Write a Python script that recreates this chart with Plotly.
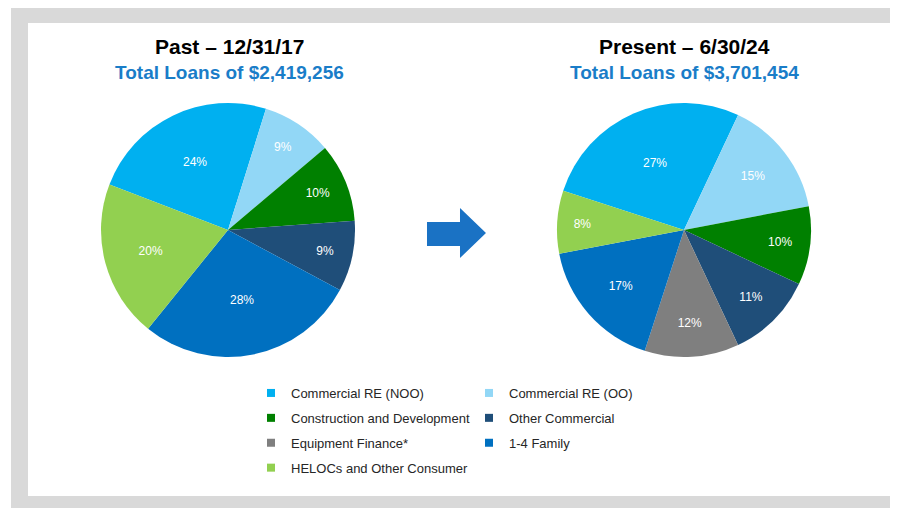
import plotly.graph_objects as go

# ---------------- data ----------------
categories = ["Commercial RE (NOO)", "Commercial RE (OO)", "Construction and Development",
              "Other Commercial", "Equipment Finance*", "1-4 Family", "HELOCs and Other Consumer"]
past_values = [24, 9, 10, 9, 0, 28, 20]
present_values = [27, 15, 10, 11, 12, 17, 8]
colors = ["#00b0f0", "#92d7f6", "#008000", "#1f4e79", "#7f7f7f", "#0070c0", "#92d050"]

past_title = "Past – 12/31/17"
past_subtitle = "Total Loans of $2,419,256"
present_title = "Present – 6/30/24"
present_subtitle = "Total Loans of $3,701,454"

W, H = 898, 508
OFF = 8  # page body margin
FONT = "Arial, Liberation Sans, sans-serif"
BLUE = "#1a7dc8"


def px(x):
    return (x - OFF) / W


def py(y):
    return 1 - (y - OFF) / H


def pie_domain(cx, cy, r):
    return dict(x=[px(cx - r), px(cx + r)], y=[py(cy + r), py(cy - r)])


def nonzero(values):
    idx = [i for i, v in enumerate(values) if v > 0]
    return ([categories[i] for i in idx], [values[i] for i in idx], [colors[i] for i in idx])


fig = go.Figure()

for values, cx, rot in [(past_values, 228, -69), (present_values, 684, -72)]:
    labs, vals, cols = nonzero(values)
    fig.add_trace(go.Pie(
        labels=labs, values=vals, sort=False, direction="clockwise", rotation=rot,
        marker=dict(colors=cols, line=dict(width=0)),
        texttemplate="%{value}%", textposition="inside", insidetextorientation="horizontal",
        textfont=dict(size=12, color="white", family=FONT),
        domain=pie_domain(cx, 230, 127), showlegend=False, hoverinfo="label+value",
    ))

# legend entries (two columns)
for i, (cat, col) in enumerate(zip(categories, colors)):
    fig.add_trace(go.Scatter(
        x=[None], y=[None], mode="markers", name=cat,
        marker=dict(symbol="square", size=8, color=col),
        legend="legend" if i % 2 == 0 else "legend2", legendgroup=cat,
    ))

shapes = [
    dict(type="rect", xref="paper", yref="paper", x0=px(11), x1=1.02, y0=-0.02, y1=py(6),
         fillcolor="#d9d9d9", line=dict(width=0), layer="below"),
    dict(type="rect", xref="paper", yref="paper", x0=px(28), x1=px(892), y0=py(496), y1=py(23),
         fillcolor="white", line=dict(width=0), layer="below"),
]
arrow_pts = [(427, 222), (460, 222), (460, 208), (486, 233), (460, 258), (460, 246), (427, 246)]
path = "M " + " L ".join(f"{px(x):.5f},{py(y):.5f}" for x, y in arrow_pts) + " Z"
shapes.append(dict(type="path", xref="paper", yref="paper", path=path,
                   fillcolor="#1a72c4", line=dict(width=0)))

annotations = []
for cx, t, s in [(229, past_title, past_subtitle), (684, present_title, present_subtitle)]:
    annotations.append(dict(x=px(cx), y=py(47), xref="paper", yref="paper", text=f"<b>{t}</b>",
                            showarrow=False, xanchor="center", yanchor="middle",
                            font=dict(size=21, color="black", family=FONT)))
    annotations.append(dict(x=px(cx), y=py(72), xref="paper", yref="paper", text=f"<b>{s}</b>",
                            showarrow=False, xanchor="center", yanchor="middle",
                            font=dict(size=19, color=BLUE, family=FONT)))

legend_common = dict(xanchor="left", yanchor="top", y=py(378), bgcolor="rgba(0,0,0,0)",
                     font=dict(size=13, color="#262626", family=FONT), tracegroupgap=5,
                     itemwidth=30, orientation="v")

fig.update_layout(
    width=W, height=H, margin=dict(l=0, r=0, t=0, b=0),
    paper_bgcolor="white", plot_bgcolor="rgba(0,0,0,0)",
    xaxis=dict(visible=False), yaxis=dict(visible=False),
    shapes=shapes, annotations=annotations,
    legend=dict(x=px(291 - 40), **legend_common),
    legend2=dict(x=px(509 - 40), **legend_common),
    font=dict(family=FONT),
)

fig.write_html("out.html")
